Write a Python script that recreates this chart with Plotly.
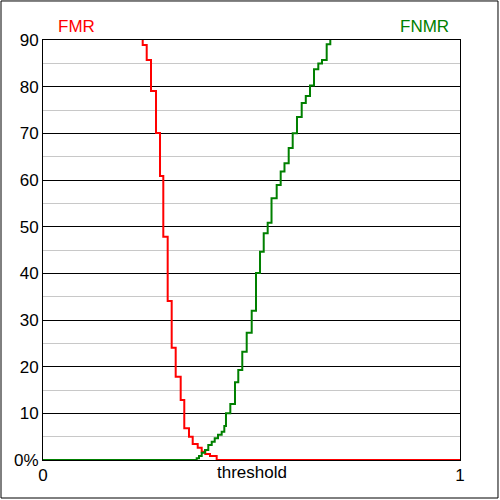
import plotly.graph_objects as go

# FMR step curve (threshold, percent)
fmr_x = [0.2391, 0.2391, 0.2487, 0.2590, 0.2710, 0.2806, 0.2885, 0.2990, 0.3086, 0.3182,
         0.3302, 0.3388, 0.3501, 0.3590, 0.3710, 0.3806, 0.3892, 0.4005, 0.4165, 1.0]
fmr_y = [90.0, 88.93, 85.71, 79.07, 70.07, 60.86, 47.85, 34.07, 24.06, 17.85,
         12.86, 6.79, 4.99, 3.43, 2.64, 1.78, 1.29, 0.86, 0.0, 0.0]

# FNMR step curve (threshold, percent)
fnmr_x = [0.0, 0.3686, 0.3741, 0.3806, 0.3885, 0.3964, 0.4046, 0.4118, 0.4197, 0.4285,
          0.4348, 0.4388, 0.4492, 0.4604, 0.4683, 0.4779, 0.4885, 0.5005, 0.5108, 0.5204,
          0.5293, 0.5388, 0.5480, 0.5604, 0.5700, 0.5791, 0.5892, 0.5988, 0.6091, 0.6204,
          0.6302, 0.6403, 0.6499, 0.6602, 0.6691, 0.6803, 0.6890]
fnmr_y = [0.0, 0.36, 0.86, 1.56, 2.14, 3.21, 3.92, 4.65, 5.42, 6.06,
          7.29, 10.0, 12.0, 16.65, 19.29, 23.2, 27.28, 31.99, 40.07, 44.64,
          48.58, 50.85, 56.08, 58.93, 61.82, 63.58, 66.86, 70.0, 73.5, 76.5,
          78.0, 80.25, 83.74, 84.96, 85.71, 89.07, 90.0]

y_ticks = [0, 10, 20, 30, 40, 50, 60, 70, 80, 90]
y_tick_text = ["0%", "10", "20", "30", "40", "50", "60", "70", "80", "90"]
x_ticks = [0, 1]
x_tick_text = ["0", "1"]

FONT = "Liberation Sans, Arial, sans-serif"

fig = go.Figure()
fig.add_trace(go.Scatter(x=fmr_x, y=fmr_y, mode="lines", line_shape="hv",
                         line=dict(color="#ff0000", width=2), cliponaxis=True,
                         showlegend=False, hoverinfo="skip"))
fig.add_trace(go.Scatter(x=fnmr_x, y=fnmr_y, mode="lines", line_shape="hv",
                         line=dict(color="#008000", width=2), cliponaxis=True,
                         showlegend=False, hoverinfo="skip"))

fig.update_layout(
    width=500, height=500,
    margin=dict(l=43, r=40, t=40, b=40, pad=0, autoexpand=False),
    paper_bgcolor="white", plot_bgcolor="white",
    font=dict(family=FONT, size=17, color="black"),
    xaxis=dict(range=[0, 1], tickvals=x_ticks, ticktext=x_tick_text, automargin=False,
               showgrid=False, zeroline=False, showline=True, mirror=True,
               linecolor="black", linewidth=1, ticks="", fixedrange=True),
    yaxis=dict(range=[0, 90], tickvals=y_ticks, ticktext=y_tick_text, automargin=False,
               showgrid=True, gridcolor="black", gridwidth=1,
               minor=dict(tickvals=[5, 15, 25, 35, 45, 55, 65, 75, 85], showgrid=True,
                          gridcolor="#c8c8c8", gridwidth=1),
               zeroline=False, showline=True, mirror=True,
               linecolor="black", linewidth=1, ticks="", fixedrange=True),
    annotations=[
        dict(text="threshold", x=0.5, y=-0.0286, xref="paper", yref="paper",
             showarrow=False, xanchor="center", yanchor="middle",
             font=dict(family=FONT, size=17, color="black")),
        dict(text="FMR", x=0.0815, y=1.031, xref="paper", yref="paper",
             showarrow=False, xanchor="center", yanchor="middle",
             font=dict(family=FONT, size=17, color="#ff0000")),
        dict(text="FNMR", x=0.916, y=1.031, xref="paper", yref="paper",
             showarrow=False, xanchor="center", yanchor="middle",
             font=dict(family=FONT, size=17, color="#008000")),
    ],
    shapes=[
        dict(type="rect", xref="paper", yref="paper",
             x0=-0.1007, x1=1.0911, y0=-0.0905, y1=1.0929,
             line=dict(color="black", width=1), fillcolor="rgba(0,0,0,0)", layer="above"),
    ],
)

fig.write_html("out.html", config={"displayModeBar": False, "staticPlot": True},
               post_script="document.body.style.margin='0';")
